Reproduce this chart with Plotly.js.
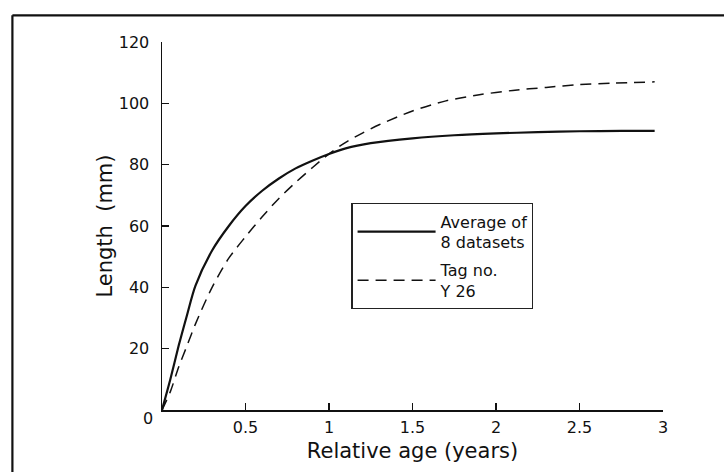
<!DOCTYPE html>
<html>
<head>
<meta charset="utf-8">
<script src="https://cdn.plot.ly/plotly-3.0.1.min.js"></script>
<style>html,body{margin:0;padding:0;background:#fff;}#chart{width:724px;height:472px;}</style>
</head>
<body>
<div id="chart"></div>
<script>
// Relative age (years) and length (mm)
const avgAge = [0, 0.05, 0.10, 0.15, 0.20, 0.30, 0.40, 0.50, 0.60, 0.70, 0.80, 0.90, 1.00, 1.10, 1.25, 1.50, 1.75, 2.00, 2.25, 2.50, 2.75, 2.95];
const avgLen = [0, 10, 21, 31, 40.5, 52, 60, 66.5, 71.5, 75.5, 78.8, 81.3, 83.5, 85.3, 87, 88.6, 89.6, 90.2, 90.6, 90.9, 91, 91];
const tagAge = [0, 0.05, 0.10, 0.15, 0.20, 0.30, 0.40, 0.50, 0.60, 0.70, 0.80, 0.90, 1.00, 1.10, 1.20, 1.30, 1.50, 1.70, 1.90, 2.10, 2.30, 2.50, 2.70, 2.95];
const tagLen = [0, 6, 14, 21, 28, 40, 49.5, 56.5, 63, 69, 74.2, 79, 83.5, 87.3, 90.3, 93, 97.5, 100.8, 102.8, 104.2, 105.2, 106.1, 106.6, 107];
const seriesNames = ['Average of<br>8 datasets', 'Tag no.<br>Y 26'];
const xTicks = [0.5, 1, 1.5, 2, 2.5, 3];
const xTickText = ['0.5', '1', '1.5', '2', '2.5', '3'];
const yTicks = [20, 40, 60, 80, 100, 120];

const FONT = 'DejaVu Sans, Liberation Sans, sans-serif';

const traces = [
  {x: avgAge, y: avgLen, name: seriesNames[0], legendgroup: 'a', mode: 'lines', type: 'scatter',
   line: {color: '#111', width: 2.2, shape: 'spline', smoothing: 0.8}},
  {x: tagAge, y: tagLen, name: seriesNames[1], legendgroup: 'b', mode: 'lines', type: 'scatter',
   line: {color: '#111', width: 1.5, dash: '11px,7px', shape: 'spline', smoothing: 0.8}}
];

const layout = {
  width: 724, height: 472,
  margin: {l: 162, r: 61, t: 42, b: 62},
  paper_bgcolor: '#fff', plot_bgcolor: '#fff',
  font: {family: FONT, color: '#111', size: 16},
  showlegend: true,
  legend: {
    x: 0.378, y: 0.562, xanchor: 'left', yanchor: 'top',
    bordercolor: '#222', borderwidth: 1.2, bgcolor: '#fff',
    font: {family: FONT, size: 16, color: '#111'},
    tracegroupgap: 4, itemwidth: 78
  },
  xaxis: {
    range: [0, 3], showgrid: false, zeroline: false,
    showline: true, linecolor: '#111', linewidth: 1.5,
    ticks: 'inside', ticklen: 7, tickwidth: 1.2, tickcolor: '#111',
    tickvals: xTicks, ticktext: xTickText, ticklabelstandoff: 2,
    tickfont: {family: FONT, size: 16},
    title: {text: 'Relative age (years)', font: {family: FONT, size: 21}, standoff: 7},
    fixedrange: true
  },
  yaxis: {
    range: [0, 120], showgrid: false, zeroline: false,
    showline: true, linecolor: '#111', linewidth: 1.5,
    ticks: 'inside', ticklen: 7, tickwidth: 1.2, tickcolor: '#111',
    tickvals: yTicks, ticklabelstandoff: 8,
    tickfont: {family: FONT, size: 16},
    title: {text: 'Length  (mm)', font: {family: FONT, size: 21}, standoff: 0},
    fixedrange: true
  },
  annotations: [
    {text: '0', xref: 'paper', yref: 'paper', x: -0.027, y: -0.022, xanchor: 'center', yanchor: 'middle',
     showarrow: false, font: {family: FONT, size: 16, color: '#111'}}
  ],
  shapes: [
    {type: 'line', xref: 'paper', yref: 'paper', x0: -0.2986, x1: 1.2, y0: 1.0725, y1: 1.0725,
     line: {color: '#111', width: 2.2}, layer: 'below'},
    {type: 'line', xref: 'paper', yref: 'paper', x0: -0.2986, x1: -0.2986, y0: -0.25, y1: 1.0725,
     line: {color: '#111', width: 2.2}, layer: 'below'}
  ]
};

Plotly.newPlot('chart', traces, layout, {displayModeBar: false, staticPlot: true});
</script>
</body>
</html>
